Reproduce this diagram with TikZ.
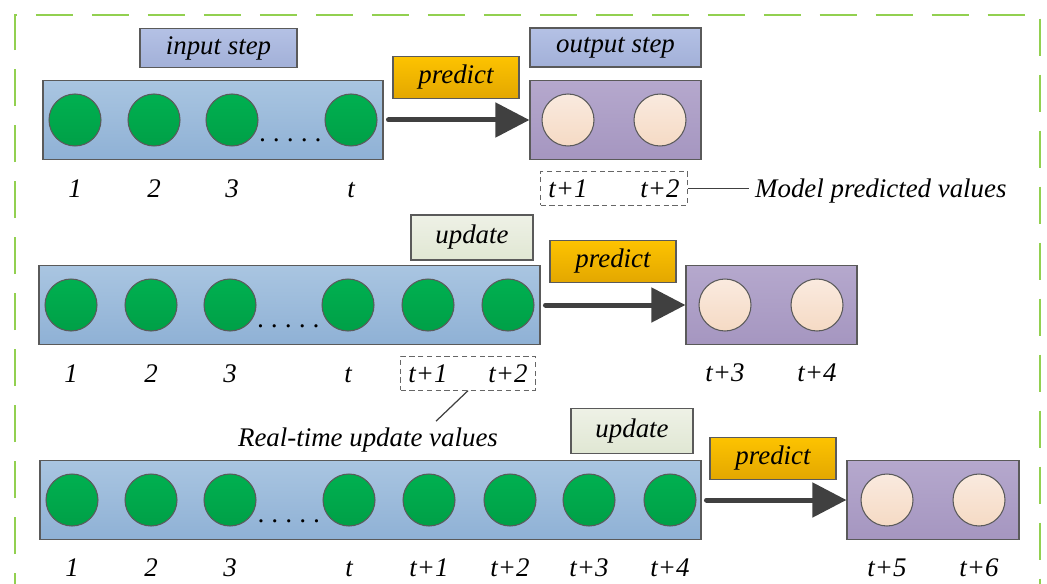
\documentclass[tikz,border=0pt]{standalone}
\usepackage{fontspec}
\setmainfont{Liberation Serif}
\usepackage{xcolor}
\usepackage{tikz}
\usetikzlibrary{arrows.meta, positioning, calc, fit}

\definecolor{seqtop}{HTML}{A9C5E1}
\definecolor{seqbot}{HTML}{8FB1D5}
\definecolor{balltop}{HTML}{00B050}
\definecolor{ballbot}{HTML}{00A047}
\definecolor{outtop}{HTML}{B5A8CD}
\definecolor{outbot}{HTML}{A596C0}
\definecolor{predtop}{HTML}{FDC300}
\definecolor{predbot}{HTML}{E3A700}
\definecolor{steptop}{HTML}{B4C1E5}
\definecolor{stepbot}{HTML}{A2B0D8}
\definecolor{updtop}{HTML}{EEF1E6}
\definecolor{updbot}{HTML}{E0E7D3}
\definecolor{peachtop}{HTML}{FAEADF}
\definecolor{peachbot}{HTML}{F5DAC4}
\definecolor{framegreen}{HTML}{92D050}
\definecolor{arrowgray}{HTML}{404040}
\definecolor{boxgray}{HTML}{5A5A5A}

\newcommand{\dotrow}{.\hspace{4.1pt}.\hspace{4.1pt}.\hspace{4.1pt}.\hspace{4.1pt}.}

\begin{document}
\begin{tikzpicture}[
x=0.02cm, y=-0.02cm,
font=\fontsize{15.3pt}{18pt}\selectfont\itshape,
seq_node/.style={rectangle, draw=boxgray, line width=0.7pt, top color=seqtop, bottom color=seqbot, minimum height=1.58cm},
out_node/.style={rectangle, draw=boxgray, line width=0.7pt, top color=outtop, bottom color=outbot, minimum width=3.42cm, minimum height=1.58cm},
in_ball/.style={circle, draw=boxgray, line width=0.6pt, top color=balltop, bottom color=ballbot, minimum size=1.04cm, inner sep=0pt},
out_ball/.style={circle, draw=boxgray, line width=0.6pt, top color=peachtop, bottom color=peachbot, minimum size=1.04cm, inner sep=0pt},
tag_node/.style={rectangle, draw=boxgray, line width=0.7pt, minimum height=0.78cm},
step_tag/.style={tag_node, top color=steptop, bottom color=stepbot},
pred_tag/.style={tag_node, top color=predtop, bottom color=predbot, minimum width=2.52cm, minimum height=0.84cm},
upd_tag/.style={tag_node, top color=updtop, bottom color=updbot, minimum width=2.44cm, minimum height=0.9cm},
num_node/.style={anchor=base},
dash_box/.style={draw=black!60, dash pattern=on 3pt off 2pt, line width=0.5pt, inner sep=1pt},
pred_arrow/.style={draw=arrowgray, line width=0.1cm, line cap=round, -{Triangle[length=0.68cm, width=0.68cm]}, shorten <=2.8pt},
lead_line/.style={draw=black!75, line width=0.7pt},
frame_line/.style={draw=framegreen, line width=0.05cm, dash pattern=on 0.74cm off 0.38cm, dash phase=0.2cm}
]
\useasboundingbox (0,0) rectangle (1047,584);

% Outer frame
\draw[frame_line] (15,600) -- (15,15) -- (1040,15) -- (1040,600);

% Row 1
\node[seq_node, minimum width=6.8cm] (seq1) at (213,120) {};
\foreach \i/\x/\lab in {1/75/1, 2/154/2, 3/232/3, 4/351/t} {
  \node[in_ball] (a\i) at (\x,120) {};
  \node[num_node] (na\i) at (\x,197) {\lab};
}
\node[anchor=base] (dots1) at (291,142) {\dotrow};
\node[out_node] (out1) at (615.5,120) {};
\foreach \i/\x/\lab in {1/568/t+1, 2/660/t+2} {
  \node[out_ball] (pa\i) at (\x,120) {};
  \node[num_node] (npa\i) at (\x,197) {\lab};
}
\node[step_tag, minimum width=3.14cm] (instep) at (218.5,48) {input step};
\node[step_tag, minimum width=3.42cm] (outstep) at (615.5,47.5) {output step};
\node[pred_tag] (pred1) at (456,77.5) {predict};
\node[dash_box, fit=(npa1)(npa2)] (dash1) {};
\node[anchor=base west] (model) at (749,197) {Model predicted values};

% Row 2
\node[seq_node, minimum width=10.02cm] (seq2) at (289.5,305) {};
\foreach \i/\x/\lab in {1/71/1, 2/151/2, 3/230/3, 4/348/t, 5/428/t+1, 6/508/t+2} {
  \node[in_ball] (b\i) at (\x,305) {};
  \node[num_node] (nb\i) at (\x,382) {\lab};
}
\node[anchor=base] (dots2) at (289,327) {\dotrow};
\node[out_node] (out2) at (771.5,305) {};
\foreach \i/\x/\lab in {1/725/t+3, 2/817/t+4} {
  \node[out_ball] (pb\i) at (\x,305) {};
  \node[num_node] (npb\i) at (\x,381) {\lab};
}
\node[upd_tag] (upd2) at (472,237.5) {update};
\node[pred_tag] (pred2) at (613,261.5) {predict};
\node[dash_box, fit=(nb5)(nb6)] (dash2) {};
\node[anchor=base] (realtime) at (368,446) {Real-time update values};

% Row 3
\node[seq_node, minimum width=13.22cm] (seq3) at (370.5,500) {};
\foreach \i/\x/\lab in {1/72/1, 2/151/2, 3/230/3, 4/349/t, 5/429/t+1, 6/510/t+2, 7/589/t+3, 8/670/t+4} {
  \node[in_ball] (c\i) at (\x,500) {};
  \node[num_node] (nc\i) at (\x,576) {\lab};
}
\node[anchor=base] (dots3) at (289.5,522) {\dotrow};
\node[out_node, minimum width=3.44cm] (out3) at (933,500) {};
\foreach \i/\x/\lab in {1/887/t+5, 2/979/t+6} {
  \node[out_ball] (pc\i) at (\x,500) {};
  \node[num_node] (npc\i) at (\x,576) {\lab};
}
\node[upd_tag] (upd3) at (632,431) {update};
\node[pred_tag] (pred3) at (773,458.5) {predict};

% Edges
\draw[pred_arrow] (seq1) -- (out1);
\draw[pred_arrow] (seq2) -- (out2);
\draw[pred_arrow] (seq3) -- (out3);
\draw[lead_line] (dash1.east) -- (dash1.east -| model.west);
\draw[lead_line] (dash2.south) -- ($(realtime.north)!0.5!(realtime.north east)$);
\end{tikzpicture}
\end{document}
